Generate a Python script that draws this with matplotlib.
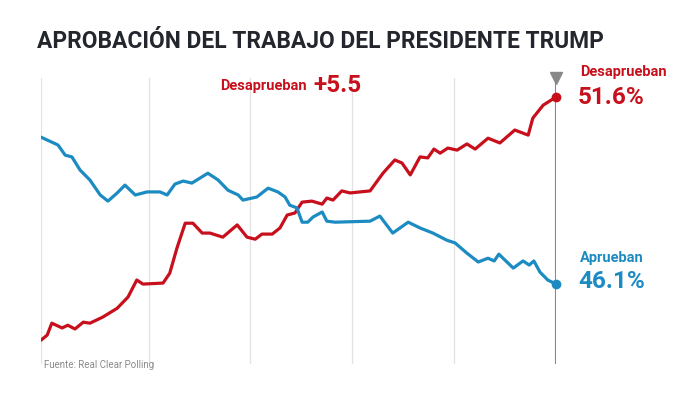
import matplotlib.pyplot as plt

# dias desde el inicio (eje relativo, 0-100), valores en %
dias_desaprueban = [0, 1.2, 2.1, 4.1, 5.2, 6.6, 8.2, 9.5, 12.0, 14.8, 16.9, 18.6, 19.8,
                    23.7, 25.0, 26.4, 28.0, 29.5, 31.3, 32.8, 35.3, 38.1, 40.0, 41.6,
                    42.9, 44.9, 46.4, 47.8, 49.3, 50.7, 52.6, 54.6, 55.5, 56.7, 58.4,
                    60.0, 63.9, 66.4, 68.7, 70.1, 71.7, 73.6, 75.1, 76.3, 77.5, 79.0,
                    80.8, 82.7, 84.3, 86.8, 89.1, 92.0, 94.6, 95.5, 97.5, 100]
desaprueban = [44.45, 44.6, 44.95, 44.81, 44.89, 44.78, 44.98, 44.95, 45.13, 45.39, 45.72,
               46.22, 46.1, 46.13, 46.42, 47.16, 47.89, 47.89, 47.6, 47.6, 47.48, 47.84,
               47.48, 47.42, 47.57, 47.57, 47.75, 48.13, 48.19, 48.51, 48.54, 48.45,
               48.63, 48.57, 48.84, 48.78, 48.84, 49.36, 49.75, 49.66, 49.31, 49.84,
               49.81, 50.07, 49.95, 50.1, 50.04, 50.22, 50.07, 50.39, 50.25, 50.63,
               50.48, 50.98, 51.36, 51.6]

dias_aprueban = [0, 3.3, 4.7, 6.0, 7.6, 9.5, 11.5, 13.0, 14.8, 16.3, 18.3, 20.6, 23.1,
                 24.5, 26.0, 27.6, 29.3, 32.4, 34.4, 36.3, 38.3, 39.2, 41.9, 44.1, 46.0,
                 47.4, 48.3, 49.7, 50.7, 51.8, 52.8, 54.6, 55.5, 57.1, 63.9, 65.8, 68.3,
                 71.3, 73.6, 76.1, 78.8, 80.4, 82.7, 84.9, 86.8, 88.0, 88.9, 91.7, 93.6,
                 94.8, 95.7, 96.9, 98.4, 100]
aprueban = [50.42, 50.19, 49.89, 49.84, 49.45, 49.16, 48.72, 48.54, 48.78, 49.01, 48.72,
            48.81, 48.81, 48.72, 49.04, 49.13, 49.07, 49.36, 49.16, 48.86, 48.72, 48.57,
            48.66, 48.92, 48.81, 48.66, 48.42, 48.34, 47.92, 47.92, 48.07, 48.22, 47.95,
            47.92, 47.95, 48.1, 47.6, 47.92, 47.75, 47.6, 47.39, 47.31, 47.01, 46.75,
            46.86, 46.78, 46.98, 46.57, 46.78, 46.66, 46.78, 46.45, 46.22, 46.1]

# posiciones de las lineas de referencia verticales
cuadricula = [0, 21.0, 40.6, 60.4, 80.2]

rojo = '#c8101c'
azul = '#1b8bc2'
gris = '#888888'

plt.rcParams['font.family'] = ['Roboto', 'DejaVu Sans']

fig = plt.figure(figsize=(7, 3.94), dpi=100)
ax = fig.add_axes([41 / 700, 1 - 364 / 394, 515 / 700, 286 / 394])
ax.set_xlim(0, 100)
ax.set_ylim(43.75, 52.16)
for s in ax.spines.values():
    s.set_visible(False)
ax.set_xticks([])
ax.set_yticks([])

for x in cuadricula:
    ax.axvline(x, color='#e2e2e2', lw=0.9, zorder=0)
ax.axvline(100, color=gris, lw=1.5, zorder=1)
ax.plot([100], [52.16], marker='v', color=gris, markersize=8, clip_on=False, zorder=5)

ax.plot(dias_desaprueban, desaprueban, color=rojo, lw=2.3, solid_joinstyle='round',
        solid_capstyle='round', zorder=3)
ax.plot(dias_aprueban, aprueban, color=azul, lw=2.3, solid_joinstyle='round',
        solid_capstyle='round', zorder=3)
ax.plot(dias_desaprueban[-1], desaprueban[-1], 'o', color=rojo, markersize=6, zorder=4,
        clip_on=False)
ax.plot(dias_aprueban[-1], aprueban[-1], 'o', color=azul, markersize=6, zorder=4,
        clip_on=False)

fig.text(37 / 700, 1 - 42 / 394, 'APROBACIÓN DEL TRABAJO DEL PRESIDENTE TRUMP',
         fontsize=16.4, fontweight='bold', color='#23262d', va='center', ha='left')

fig.text(580 / 700, 1 - 72 / 394, 'Desaprueban', fontsize=10.5, fontweight='bold',
         color=rojo, va='center', ha='left')
fig.text(578 / 700, 1 - 97 / 394, f'{desaprueban[-1]:.1f}%', fontsize=17.5,
         fontweight='bold', color=rojo, va='center', ha='left')
fig.text(580 / 700, 1 - 258 / 394, 'Aprueban', fontsize=10.5, fontweight='bold',
         color=azul, va='center', ha='left')
fig.text(578 / 700, 1 - 281 / 394, f'{aprueban[-1]:.1f}%', fontsize=17.5,
         fontweight='bold', color=azul, va='center', ha='left')

dif = desaprueban[-1] - aprueban[-1]
fig.text(307 / 700, 1 - 86 / 394, 'Desaprueban', fontsize=10.5, fontweight='bold',
         color=rojo, va='center', ha='right')
fig.text(313 / 700, 1 - 85 / 394, f'+{dif:.1f}', fontsize=17.5, fontweight='bold',
         color=rojo, va='center', ha='left')

fig.text(44 / 700, 1 - 365 / 394, 'Fuente: Real Clear Polling', fontsize=7,
         color='#8a8a8a', va='center', ha='left')

fig.savefig('out.png', dpi=100, facecolor='white')
